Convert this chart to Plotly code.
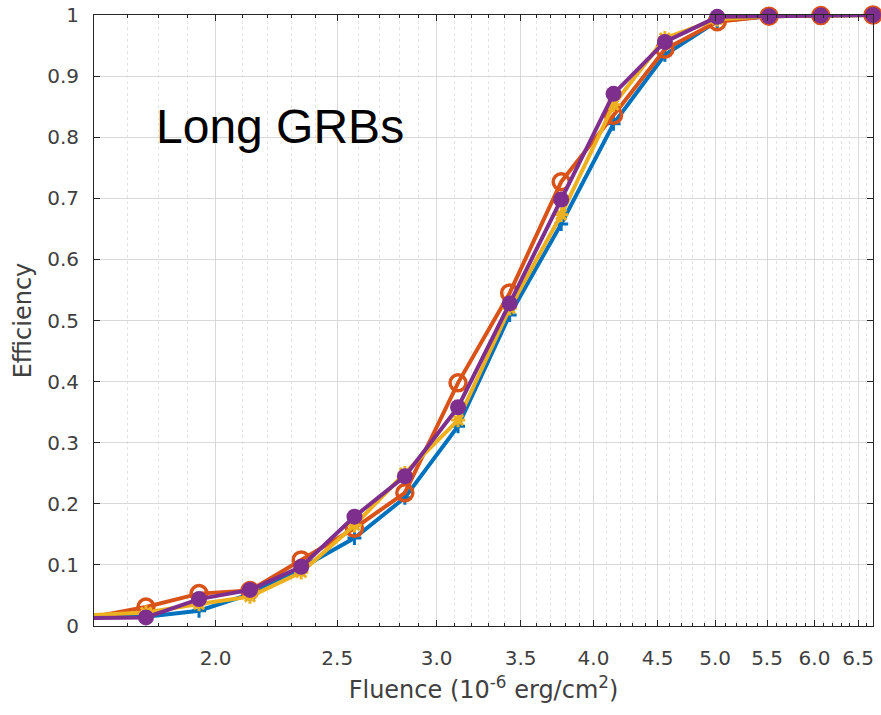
import plotly.graph_objects as go
import math

fluence = [1.60, 1.76, 1.94, 2.13, 2.34, 2.58, 2.83, 3.12, 3.43, 3.77, 4.15, 4.56, 5.02, 5.52, 6.07, 6.68]

eff_blue   = [0.015, 0.015, 0.025, 0.052, 0.095, 0.144, 0.210, 0.327, 0.509, 0.658, 0.822, 0.935, 0.990, 0.998, 0.999, 1.000]
eff_orange = [0.015, 0.031, 0.053, 0.058, 0.108, 0.160, 0.218, 0.398, 0.545, 0.727, 0.836, 0.944, 0.989, 0.998, 0.999, 1.000]
eff_yellow = [0.018, 0.022, 0.036, 0.048, 0.088, 0.165, 0.250, 0.337, 0.520, 0.673, 0.853, 0.962, 0.993, 0.998, 0.999, 1.000]
eff_purple = [0.013, 0.014, 0.044, 0.059, 0.097, 0.179, 0.245, 0.358, 0.528, 0.698, 0.871, 0.956, 0.997, 0.998, 0.999, 1.000]

x_ticks = [2.0, 2.5, 3.0, 3.5, 4.0, 4.5, 5.0, 5.5, 6.0, 6.5]
x_ticktext = ["2.0", "2.5", "3.0", "3.5", "4.0", "4.5", "5.0", "5.5", "6.0", "6.5"]
y_ticks = [0, 0.1, 0.2, 0.3, 0.4, 0.5, 0.6, 0.7, 0.8, 0.9, 1.0]
y_ticktext = ["0", "0.1", "0.2", "0.3", "0.4", "0.5", "0.6", "0.7", "0.8", "0.9", "1"]

minor_vals = [round(v / 10, 1) for v in range(17, 67) if v % 5 != 0]

series = [
    (eff_blue, "#0072BD", dict(symbol="cross-thin-open", size=10, line=dict(width=3, color="#0072BD"))),
    (eff_orange, "#D95319", dict(symbol="circle-open", size=16, line=dict(width=3.5, color="#D95319"))),
    (eff_yellow, "#EDB120", dict(symbol="asterisk-open", size=12, line=dict(width=3, color="#EDB120"))),
    (eff_purple, "#7E2F8E", dict(symbol="circle", size=16, color="#7E2F8E", line=dict(width=0))),
]

fig = go.Figure()
for y, c, m in series:
    fig.add_trace(go.Scatter(x=fluence, y=y, mode="lines+markers",
                             line=dict(color=c, width=4), marker=m,
                             cliponaxis=False, showlegend=False))

axis_color = "#262626"
fig.update_layout(
    width=881, height=715,
    margin=dict(l=94, r=8, t=15, b=89, autoexpand=False),
    plot_bgcolor="white", paper_bgcolor="white",
    font=dict(family="DejaVu Sans", color="#404040"),
    xaxis=dict(
        type="log", range=[math.log10(1.60), math.log10(6.68)],
        tickmode="array", tickvals=x_ticks, ticktext=x_ticktext,
        tickfont=dict(size=20, color="#404040"),
        ticks="inside", ticklen=6, tickcolor=axis_color,
        showline=True, linecolor=axis_color, linewidth=1, mirror="ticks",
        showgrid=True, gridcolor="#d9d9d9", gridwidth=1,
        zeroline=False, ticklabelstandoff=14,
        minor=dict(tickmode="array", tickvals=minor_vals, ticks="inside", ticklen=3,
                   tickcolor=axis_color, showgrid=True, gridcolor="#e3e3e3",
                   griddash="dot", gridwidth=1),
        title=dict(text="Fluence (10<sup>-6</sup> erg/cm<sup>2</sup>)",
                   font=dict(size=24, color="#404040"), standoff=12),
    ),
    yaxis=dict(
        range=[0, 1], tickmode="array", tickvals=y_ticks, ticktext=y_ticktext,
        tickfont=dict(size=20, color="#404040"),
        ticks="inside", ticklen=6, tickcolor=axis_color,
        showline=True, linecolor=axis_color, linewidth=1, mirror="ticks",
        showgrid=True, gridcolor="#d9d9d9", gridwidth=1,
        zeroline=False, ticklabelstandoff=10,
        title=dict(text="Efficiency", font=dict(size=24, color="#404040"), standoff=8),
    ),
    annotations=[dict(x=math.log10(1.785), y=0.818, xref="x", yref="y",
                      text="Long GRBs", showarrow=False, xanchor="left", yanchor="middle",
                      font=dict(family="Liberation Sans", size=48, color="black"))],
)

fig.write_html("out.html")
